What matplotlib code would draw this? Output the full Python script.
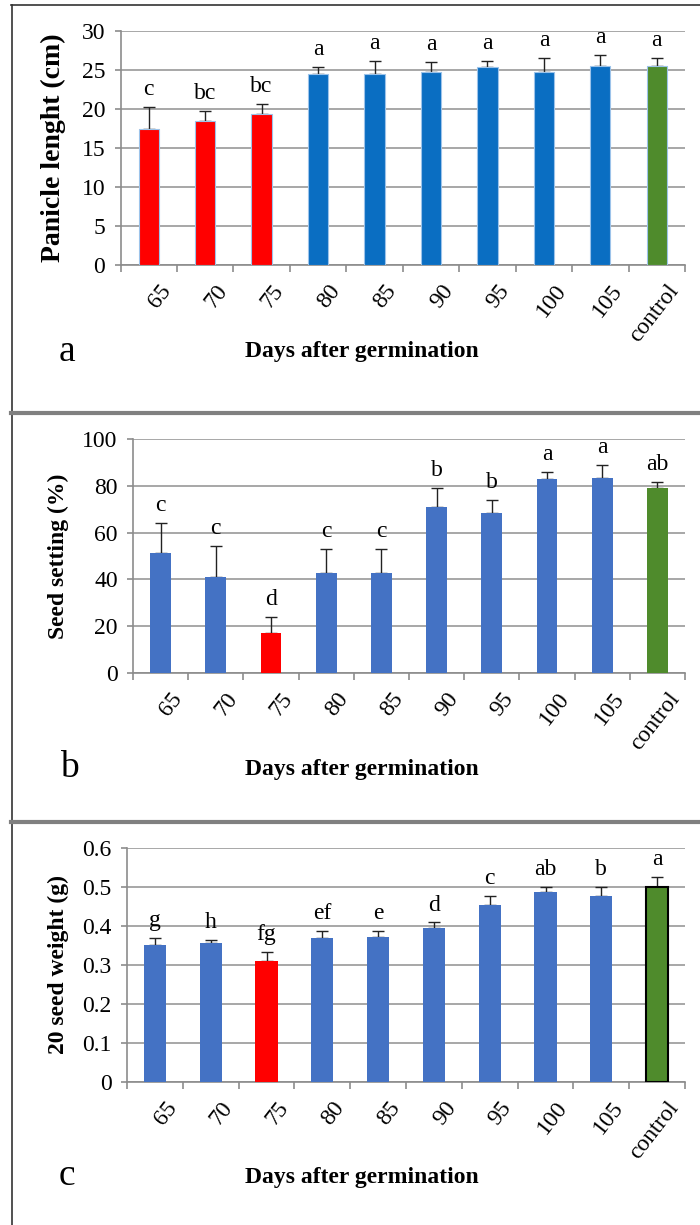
import matplotlib
matplotlib.use("Agg")
import matplotlib.pyplot as plt
import matplotlib.transforms as mtransforms
from matplotlib.lines import Line2D
import numpy as np

SERIF = ['Liberation Serif', 'DejaVu Serif']
plt.rcParams['font.family'] = SERIF

categories = ['65', '70', '75', '80', '85', '90', '95', '100', '105', 'control']

# Panel a: panicle length
panicle_mean = [17.4, 18.4, 19.3, 24.5, 24.5, 24.8, 25.4, 24.8, 25.5, 25.5]
panicle_err = [2.9, 1.3, 1.3, 0.9, 1.7, 1.2, 0.8, 1.7, 1.4, 1.1]
panicle_letters = ['c', 'bc', 'bc', 'a', 'a', 'a', 'a', 'a', 'a', 'a']
panicle_groups = ['red', 'red', 'red', 'blue', 'blue', 'blue', 'blue', 'blue', 'blue', 'green']

# Panel b: seed setting
seedset_mean = [51.3, 40.9, 17.1, 42.9, 42.9, 70.9, 68.5, 82.9, 83.3, 79.1]
seedset_err = [12.8, 13.5, 7.0, 10.2, 10.2, 8.0, 5.6, 3.1, 5.4, 2.7]
seedset_letters = ['c', 'c', 'd', 'c', 'c', 'b', 'b', 'a', 'a', 'ab']
seedset_groups = ['blue', 'blue', 'red', 'blue', 'blue', 'blue', 'blue', 'blue', 'blue', 'green']

# Panel c: 20 seed weight
weight_mean = [0.351, 0.356, 0.309, 0.370, 0.373, 0.394, 0.454, 0.486, 0.478, 0.500]
weight_err = [0.019, 0.007, 0.025, 0.017, 0.015, 0.015, 0.024, 0.014, 0.021, 0.025]
weight_letters = ['g', 'h', 'fg', 'ef', 'e', 'd', 'c', 'ab', 'b', 'a']
weight_groups = ['blue', 'blue', 'red', 'blue', 'blue', 'blue', 'blue', 'blue', 'blue', 'green']

fig = plt.figure(figsize=(7, 12.25), dpi=100)
W, H = 700, 1225


def fx(px):
    return px / W


def fy(py):
    return 1 - py / H


panels = [
    dict(mean=panicle_mean, err=panicle_err, letters=panicle_letters, groups=panicle_groups,
         ylim=(0, 30), yticks=[0, 5, 10, 15, 20, 25, 30], yfmt='{:g}',
         ylabel='Panicle lenght (cm)', ylab_size=20, box=(120.5, 685, 31, 265), blue='#0A6EC2',
         width=0.36, tag='a', ylab_x=53, lab_y=352, tag_pos=(67, 352)),
    dict(mean=seedset_mean, err=seedset_err, letters=seedset_letters, groups=seedset_groups,
         ylim=(0, 100), yticks=[0, 20, 40, 60, 80, 100], yfmt='{:g}',
         ylabel='Seed setting (%)', ylab_size=17, box=(133, 685, 439, 673), blue='#4472C4',
         width=0.38, tag='b', ylab_x=58, lab_y=770, tag_pos=(69, 768)),
    dict(mean=weight_mean, err=weight_err, letters=weight_letters, groups=weight_groups,
         ylim=(0, 0.6), yticks=[0, 0.1, 0.2, 0.3, 0.4, 0.5, 0.6], yfmt='{:g}',
         ylabel='20 seed weight (g)', ylab_size=17, box=(127, 685, 848, 1082), blue='#4472C4',
         width=0.40, tag='c', ylab_x=58, lab_y=1178, tag_pos=(67, 1176)),
]

x = np.arange(len(categories))
for i, p in enumerate(panels):
    l, r, t, b = p['box']
    ax = fig.add_axes([fx(l), fy(b), fx(r) - fx(l), fy(t) - fy(b)])
    cmap = {'red': '#FF0000', 'blue': p['blue'], 'green': '#4F8B2C'}
    colors = [cmap[g] for g in p['groups']]
    edges = []
    lws = []
    for g in p['groups']:
        if i == 2 and g == 'green':
            edges.append('black'); lws.append(1.5)
        elif i == 0:
            edges.append('#9CC3EA'); lws.append(0.8)
        else:
            edges.append('none'); lws.append(0)
    ax.bar(x, p['mean'], width=p['width'], color=colors, edgecolor=edges,
           linewidth=lws, zorder=3)
    ax.errorbar(x, p['mean'], yerr=[np.zeros(len(x)), p['err']], fmt='none',
                ecolor='#222222', elinewidth=1.0, capsize=4.5, capthick=1.0, zorder=2.5)
    for xi, m, e, s in zip(x, p['mean'], p['err'], p['letters']):
        ax.annotate(s, (xi, m + e), xytext=(0, 5), textcoords='offset points',
                    ha='center', va='bottom', fontsize=17, family=SERIF, zorder=5)
    ax.set_xlim(-0.5, len(x) - 0.5)
    ax.set_ylim(*p['ylim'])
    ax.set_yticks(p['yticks'])
    ax.set_yticklabels([p['yfmt'].format(v) for v in p['yticks']], fontsize=17,
                       family=SERIF)
    ax.yaxis.grid(True, color='#A0A0A0', linewidth=1.3, zorder=0)
    ax.set_axisbelow(True)
    for s in ['top', 'right']:
        ax.spines[s].set_visible(False)
    for s in ['left', 'bottom']:
        ax.spines[s].set_color('#8C8C8C')
        ax.spines[s].set_linewidth(1.2)
    ax.tick_params(axis='y', direction='out', length=4, color='#8C8C8C', width=1.2, pad=7)
    ax.set_xticks(x)
    ax.set_xticks(np.arange(-0.5, len(x)), minor=True)
    ax.tick_params(axis='x', which='major', length=0, pad=6)
    ax.tick_params(axis='x', which='minor', length=5, color='#8C8C8C', width=1.2)
    ax.set_xticklabels(categories, rotation=52, ha='right', va='top',
                       rotation_mode='anchor', fontsize=17, family=SERIF)
    offset = mtransforms.ScaledTranslation(7 / 72, -5 / 72, fig.dpi_scale_trans)
    for lab in ax.get_xticklabels():
        lab.set_transform(lab.get_transform() + offset)
    fig.text(fx(p['ylab_x']), fy((t + b) / 2), p['ylabel'], rotation=90,
             ha='center', va='center', fontsize=p['ylab_size'], fontweight='bold',
             family=SERIF)
    fig.text(fx(362), fy(p['lab_y']), 'Days after germination', ha='center',
             va='center', fontsize=17, fontweight='bold', family=SERIF)
    fig.text(fx(p['tag_pos'][0]), fy(p['tag_pos'][1]), p['tag'], ha='center',
             va='center', fontsize=27, family=SERIF)

# panel frame lines
fig.add_artist(Line2D([fx(11.5), fx(11.5)], [fy(5), fy(1225)], color='#333333',
                      linewidth=1.2, transform=fig.transFigure))
fig.add_artist(Line2D([fx(11), fx(700)], [fy(5), fy(5)], color='#333333',
                      linewidth=1.2, transform=fig.transFigure))
for yy in [412.5, 822]:
    fig.add_artist(Line2D([fx(11), fx(700)], [fy(yy), fy(yy)], color='#808080',
                          linewidth=3.0, transform=fig.transFigure))

fig.savefig('out.png', dpi=100)
